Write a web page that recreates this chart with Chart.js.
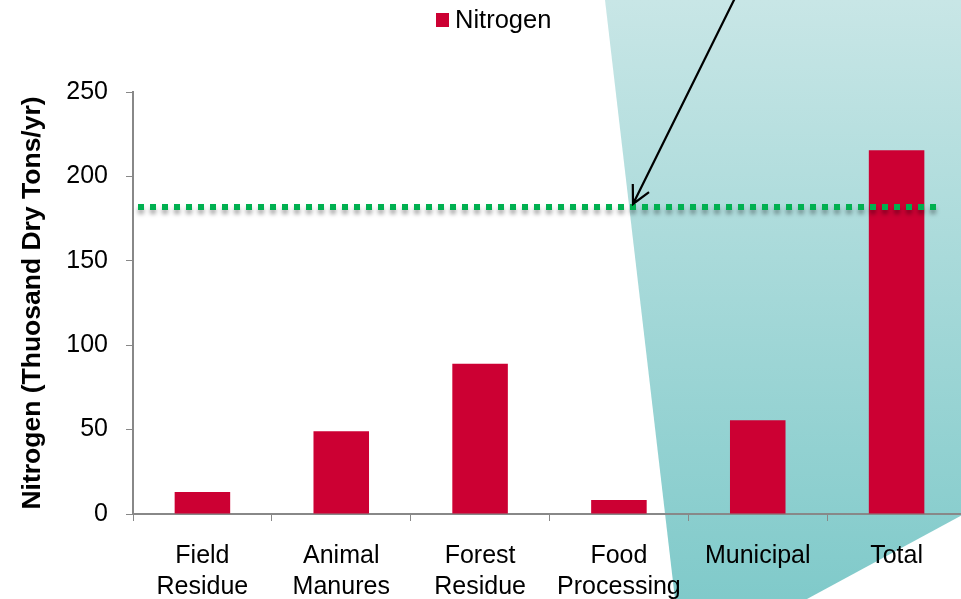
<!DOCTYPE html>
<html>
<head>
<meta charset="utf-8">
<script src="https://cdn.jsdelivr.net/npm/chart.js@4.4.1/dist/chart.umd.min.js"></script>
<style>
  html, body { margin: 0; padding: 0; background: #ffffff; overflow: hidden; }
  #wrap { width: 966px; height: 599px; position: relative; }
</style>
</head>
<body>
<div id="wrap"><canvas id="c" width="966" height="599"></canvas></div>
<script>
// Nitrogen available by source (thousand dry tons per year)
const categories = [["Field", "Residue"], ["Animal", "Manures"], ["Forest", "Residue"], ["Food", "Processing"], ["Municipal"], ["Total"]];
const nitrogenValues = [13, 49, 89, 8.3, 55.5, 215.5];
const seriesLabel = "Nitrogen";
const referenceLevel = 182;
const yTicks = [0, 50, 100, 150, 200, 250];

const barColor = "#CC0033";
const FONT = "'Liberation Sans', Arial, sans-serif";

// Teal wedge behind the right side of the plot
const backdrop = {
  id: "backdrop",
  beforeDraw(chart) {
    const ctx = chart.ctx, W = chart.width, H = chart.height;
    ctx.save();
    const g = ctx.createLinearGradient(0, 0, 0, H);
    g.addColorStop(0, "#C8E6E6");
    g.addColorStop(1, "#80CACA");
    ctx.fillStyle = g;
    ctx.beginPath();
    ctx.moveTo(605, 0);
    ctx.lineTo(W, 0);
    ctx.lineTo(W, 513);
    ctx.lineTo(807, H);
    ctx.lineTo(675, H);
    ctx.closePath();
    ctx.fill();
    ctx.restore();
  }
};

// Dotted reference line, arrow and legend
const overlay = {
  id: "overlay",
  afterDatasetsDraw(chart) {
    const ctx = chart.ctx, y = chart.scales.y, area = chart.chartArea;
    const py = Math.round(y.getPixelForValue(referenceLevel));
    ctx.save();
    ctx.strokeStyle = "#00B050";
    ctx.lineWidth = 6;
    ctx.setLineDash([6, 6]);
    ctx.shadowColor = "rgba(0,0,0,0.35)";
    ctx.shadowBlur = 4;
    ctx.shadowOffsetY = 4;
    ctx.beginPath();
    ctx.moveTo(area.left + 5, py);
    ctx.lineTo(940, py);
    ctx.stroke();
    ctx.restore();

    // arrow pointing at the reference line
    const tipX = 633, tipY = py - 3;
    const startX = 735, startY = -2;
    ctx.save();
    ctx.strokeStyle = "#000";
    ctx.lineWidth = 2.2;
    ctx.beginPath();
    ctx.moveTo(startX, startY);
    ctx.lineTo(tipX, tipY);
    const ang = Math.atan2(tipY - startY, tipX - startX);
    const len = 20, spread = 0.47;
    ctx.moveTo(tipX - len * Math.cos(ang - spread), tipY - len * Math.sin(ang - spread));
    ctx.lineTo(tipX, tipY);
    ctx.lineTo(tipX - len * Math.cos(ang + spread), tipY - len * Math.sin(ang + spread));
    ctx.stroke();
    ctx.restore();

    // legend
    ctx.save();
    ctx.fillStyle = barColor;
    ctx.fillRect(436, 13, 13, 14);
    ctx.fillStyle = "#000";
    ctx.font = "25.5px " + FONT;
    ctx.textBaseline = "middle";
    ctx.fillText(chart.data.datasets[0].label, 455, 21);
    ctx.restore();
  }
};

new Chart(document.getElementById("c"), {
  type: "bar",
  data: {
    labels: categories,
    datasets: [{
      label: seriesLabel,
      data: nitrogenValues,
      backgroundColor: barColor,
      barPercentage: 0.4,
      categoryPercentage: 1.0
    }]
  },
  plugins: [backdrop, overlay],
  options: {
    responsive: false,
    animation: false,
    layout: { padding: { top: 92, right: 0, left: 0, bottom: 0 } },
    plugins: { legend: { display: false }, tooltip: { enabled: false } },
    scales: {
      y: {
        min: 0, max: 250,
        afterBuildTicks(scale) { scale.ticks = yTicks.map(v => ({ value: v })); },
        afterFit(scale) { scale.width = 133; },
        ticks: { color: "#000", font: { family: FONT, size: 25 }, padding: 18 },
        grid: { drawOnChartArea: false, color: "#888", tickLength: 7 },
        border: { color: "#888", width: 2 },
        title: {
          display: true,
          text: "Nitrogen (Thuosand Dry Tons/yr)",
          color: "#000",
          font: { family: FONT, size: 26.5, weight: "bold" },
          padding: { top: 17, bottom: 4 }
        }
      },
      x: {
        afterFit(scale) { scale.height = 85; },
        ticks: { color: "#000", font: { family: FONT, size: 25, lineHeight: 1.25 }, padding: 19, maxRotation: 0, autoSkip: false },
        grid: { drawOnChartArea: false, color: "#888", tickLength: 7, offset: true },
        border: { color: "#888", width: 2 }
      }
    }
  }
});
</script>
</body>
</html>
